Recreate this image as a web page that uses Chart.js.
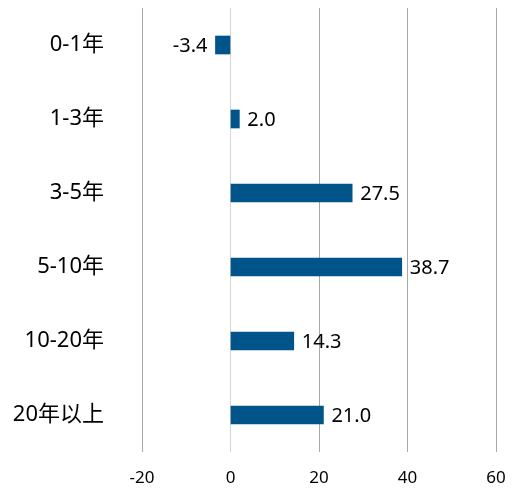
<!DOCTYPE html>
<html lang="zh">
<head>
<meta charset="UTF-8">
<title>年限分布</title>
<script src="https://cdn.jsdelivr.net/npm/chart.js"></script>
<style>
  html, body { margin: 0; padding: 0; background: #fff; }
  #wrap { width: 524px; height: 491px; }
</style>
</head>
<body>
<div id="wrap"><canvas id="myChart"></canvas></div>
<script>
const categories = ['0-1年', '1-3年', '3-5年', '5-10年', '10-20年', '20年以上'];
const values = [-3.4, 2.0, 27.5, 38.7, 14.3, 21.0];
const xTicks = [-20, 0, 20, 40, 60];

const fontFamily = '"Noto Sans", "Noto Sans CJK SC", sans-serif';

// value text next to the end of each bar
const valueLabels = {
  id: 'valueLabels',
  afterDatasetsDraw(chart) {
    const ctx = chart.ctx;
    const meta = chart.getDatasetMeta(0);
    ctx.save();
    ctx.font = '20px ' + fontFamily;
    ctx.fillStyle = '#000';
    ctx.textBaseline = 'middle';
    meta.data.forEach((bar, i) => {
      const v = values[i];
      if (v < 0) {
        ctx.textAlign = 'right';
        ctx.fillText(v.toFixed(1), bar.x - 8, bar.y + 1);
      } else {
        ctx.textAlign = 'left';
        ctx.fillText(v.toFixed(1), bar.x + 8, bar.y + 1);
      }
    });
    ctx.restore();
  }
};

new Chart(document.getElementById('myChart'), {
  type: 'bar',
  data: {
    labels: categories,
    datasets: [{
      data: values,
      backgroundColor: '#00548a',
      borderWidth: 0,
      barThickness: 18
    }]
  },
  options: {
    indexAxis: 'y',
    responsive: true,
    maintainAspectRatio: false,
    animation: false,
    layout: { padding: { top: 8, right: 28, bottom: 6, left: 0 } },
    plugins: {
      legend: { display: false },
      tooltip: { enabled: false }
    },
    scales: {
      x: {
        min: -20,
        max: 60,
        afterBuildTicks(scale) {
          scale.ticks = xTicks.map(v => ({ value: v }));
        },
        afterFit(scale) {
          scale.height = 33;
        },
        border: { display: false },
        grid: {
          drawTicks: false,
          lineWidth: 1,
          color: ctx => (ctx.tick && ctx.tick.value === 0) ? '#d4d4d4' : '#a8a8a8'
        },
        ticks: {
          padding: 16,
          color: '#000',
          font: { size: 17, family: fontFamily }
        }
      },
      y: {
        border: { display: false },
        grid: { display: false, drawTicks: false },
        afterFit(scale) {
          scale.width = 142;
          scale.paddingTop = 0;
          scale.paddingBottom = 0;
        },
        ticks: {
          padding: 38,
          color: '#000',
          font: { size: 22, family: fontFamily }
        }
      }
    }
  },
  plugins: [valueLabels]
});
</script>
</body>
</html>
